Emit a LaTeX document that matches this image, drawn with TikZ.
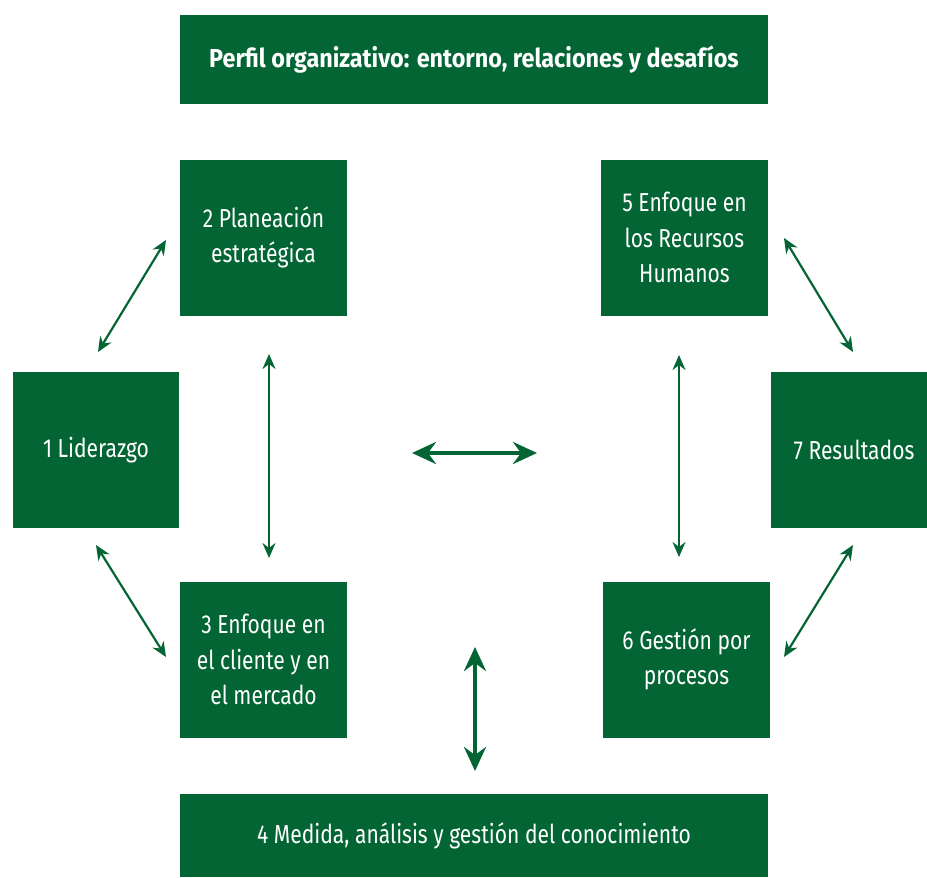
\documentclass[tikz,border=0pt]{standalone}
\usepackage{fontspec}
\setmainfont[FakeStretch=0.81,BoldFeatures={FakeStretch=0.9}]{Fira Sans}
\usetikzlibrary{arrows.meta}
\definecolor{dgreen}{HTML}{036533}
\begin{document}
\begin{tikzpicture}[x=1pt,y=-1pt,
  box/.style={fill=dgreen, text=white, inner sep=0pt, align=center, font=\fontsize{26}{35.5}\selectfont},
  thin/.style={draw=dgreen, line width=2.2pt, {Stealth[length=15pt,width=13pt,inset=5pt]}-{Stealth[length=15pt,width=13pt,inset=5pt]}},
  thick/.style={draw=dgreen, line width=4pt, {Stealth[length=24pt,width=22pt,inset=8pt]}-{Stealth[length=24pt,width=22pt,inset=8pt]}}]
\useasboundingbox (0,0) rectangle (927,878);
\node[box, minimum width=588pt, minimum height=89pt, font=\fontsize{26}{35}\selectfont\bfseries] (top) at (474,59.5) {Perfil organizativo: entorno, relaciones y desafíos};
\node[box, minimum width=167pt, minimum height=156pt] (b2) at (263.5,237.5) {2 Planeación\\estratégica};
\node[box, minimum width=167pt, minimum height=156pt] (b5) at (684.5,237.5) {5 Enfoque en\\los Recursos\\Humanos};
\node[box, minimum width=166pt, minimum height=156pt] (b1) at (96,450) {1 Liderazgo};
\node[box, minimum width=156pt, minimum height=156pt] (b7) at (849,450) {\hspace*{10pt}7 Resultados};
\node[box, minimum width=167pt, minimum height=156pt] (b3) at (263.5,659.5) {3 Enfoque en\\el cliente y en\\el mercado};
\node[box, minimum width=167pt, minimum height=156pt] (b6) at (686.5,659.5) {6 Gestión por\\procesos};
\node[box, minimum width=588pt, minimum height=83pt] (bot) at (474,835.5) {4 Medida, análisis y gestión del conocimiento};
% arrow end points
\coordinate (a12s) at (98,352); \coordinate (a12e) at (166,240);
\coordinate (a23s) at (269,354); \coordinate (a23e) at (269,558);
\coordinate (a13s) at (96,545); \coordinate (a13e) at (166,657);
\coordinate (a56s) at (679,355); \coordinate (a56e) at (679,557);
\coordinate (a57s) at (784,238); \coordinate (a57e) at (853,352);
\coordinate (a67s) at (784,657); \coordinate (a67e) at (853,545);
\coordinate (chs) at (412,453); \coordinate (che) at (537,453);
\coordinate (cvs) at (475,647); \coordinate (cve) at (475,771);
\draw[thin] (a12s) -- (a12e);
\draw[thin] (a23s) -- (a23e);
\draw[thin] (a13s) -- (a13e);
\draw[thin] (a56s) -- (a56e);
\draw[thin] (a57s) -- (a57e);
\draw[thin] (a67s) -- (a67e);
\draw[thick] (chs) -- (che);
\draw[thick] (cvs) -- (cve);
\end{tikzpicture}
\end{document}
